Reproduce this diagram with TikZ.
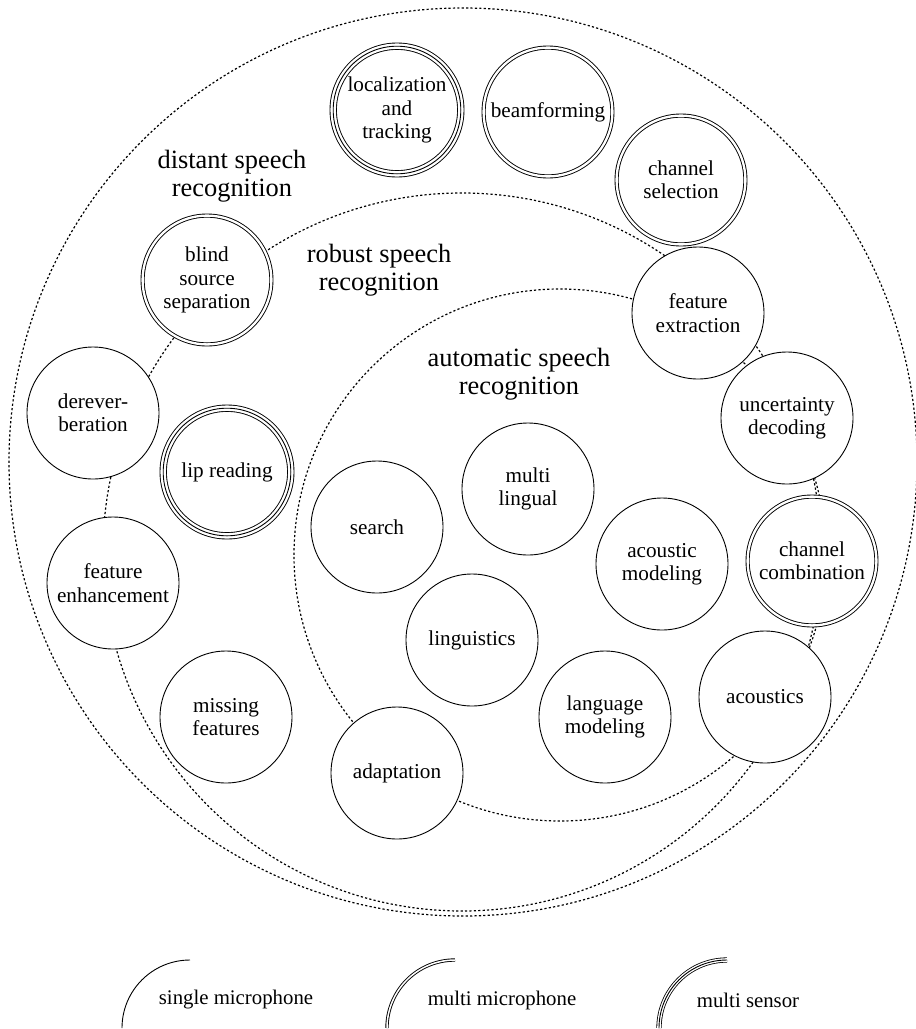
\documentclass[tikz,border=0pt]{standalone}
\usepackage{fontspec}
\setmainfont{Liberation Serif}

\begin{document}
\begin{tikzpicture}[
  x=0.5pt, y=-0.5pt,
  topic/.style={circle, draw, fill=white, inner sep=0pt, minimum size=66pt,
    align=center, line width=0.45pt, font=\fontsize{10.6}{11.7}\selectfont},
  multimic/.style={topic, minimum size=64.4pt, double, double distance=1.15pt},
  multisensor/.style={topic, minimum size=63.8pt, fill=none,
    preaction={fill=white}, preaction={draw, line width=3.65pt},
    preaction={draw=white, line width=2.75pt}},
  area/.style={align=center, font=\fontsize{13.2}{14.2}\selectfont},
  scopeline/.style={line width=0.6pt, dash pattern=on 1.1pt off 1.1pt},
  legend/.style={font=\fontsize{10.4}{12}\selectfont},
  key/.style={line width=0.45pt}
]
\useasboundingbox (0,0) rectangle (916,1029);

% the three fields, drawn under the topics
\draw[scopeline] (463,462) circle [radius=454];
\draw[scopeline] (462,552) circle [radius=359];
\draw[scopeline] (560,555) circle [radius=266];

\node[area] (dsr) at (232,176) {distant speech\\recognition};
\node[area] (rsr) at (379,270) {robust speech\\recognition};
\node[area] (asr) at (519,374) {automatic speech\\recognition};

% topics
\node[multisensor] (loctrack) at (397,110) {localization\\and\\tracking};
\node[multimic] (beamform) at (548,112) {beamforming};
\node[multimic] (chansel) at (681,180) {channel\\selection};
\node[multimic] (blindsep) at (207,280) {blind\\source\\separation};
\node[topic] (featextr) at (698,313) {feature\\extraction};
\node[topic] (dereverb) at (93,413) {derever-\\beration};
\node[multisensor] (lipread) at (227,472) {lip reading};
\node[topic] (uncdec) at (787,418) {uncertainty\\decoding};
\node[topic] (search) at (377,527) {search};
\node[topic] (multiling) at (528,489) {multi\\lingual};
\node[multimic] (chancomb) at (812,561) {channel\\combination};
\node[topic] (acmodel) at (662,564) {acoustic\\modeling};
\node[topic] (featenh) at (113,583) {feature\\enhancement};
\node[topic] (linguist) at (472,640) {linguistics};
\node[topic] (acoustics) at (765,697) {acoustics};
\node[topic] (langmodel) at (605,717) {language\\modeling};
\node[topic] (missfeat) at (226,717) {missing\\features};
\node[topic] (adapt) at (397,773) {adaptation};

% legend
\coordinate (singlekey) at (122,1028);
\coordinate (multikey) at (387,1028);
\coordinate (sensorkey) at (659,1028);
\draw[key] (singlekey) arc[start angle=180, end angle=270, radius=68];
\draw[key, double, double distance=0.75pt] (multikey) arc[start angle=180, end angle=270, radius=68];
\draw[key, preaction={draw, line width=2.6pt}, preaction={draw=white, line width=1.8pt}]
  (sensorkey) arc[start angle=180, end angle=270, radius=68];
\node[legend] (singlelbl) at (236,1000) {single microphone};
\node[legend] (multilbl) at (502,1000) {multi microphone};
\node[legend] (sensorlbl) at (748,1000) {multi sensor};
\end{tikzpicture}
\end{document}
